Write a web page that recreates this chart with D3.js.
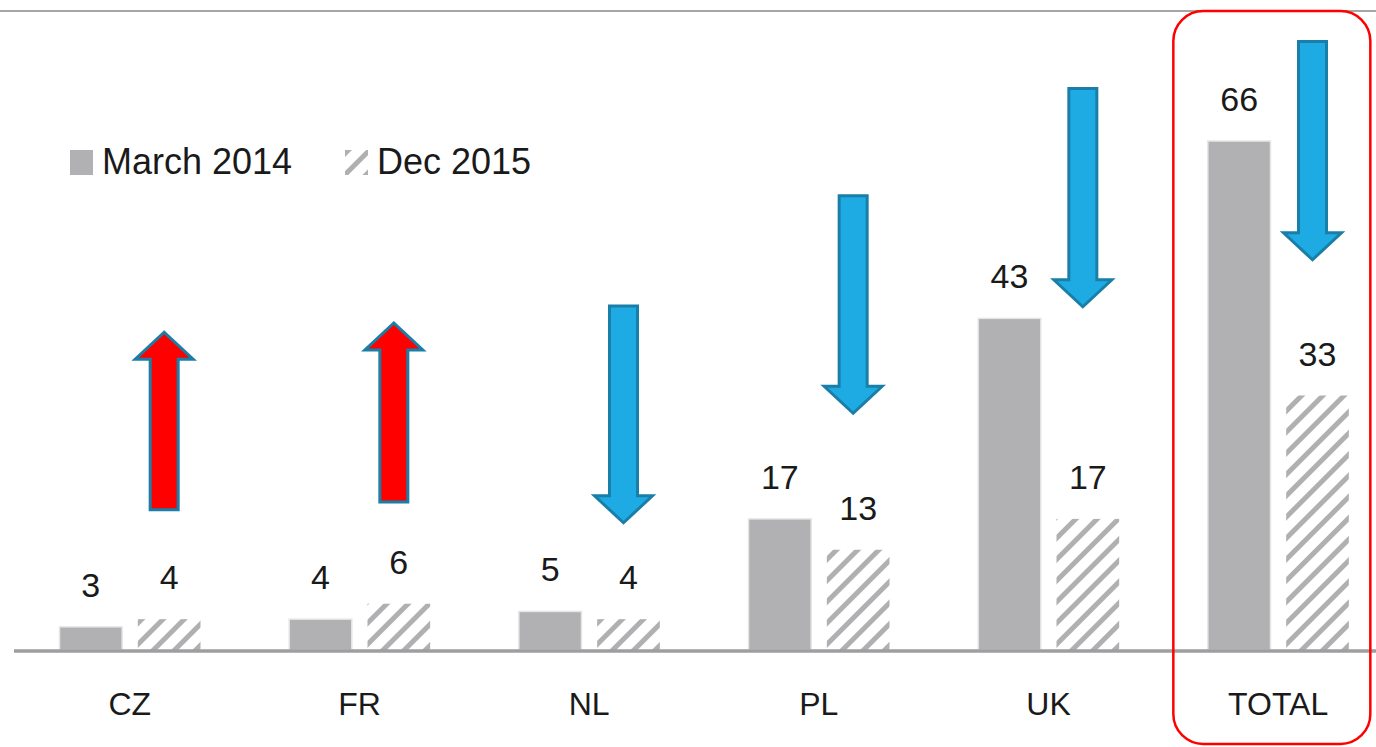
<!DOCTYPE html>
<html>
<head>
<meta charset="utf-8">
<script src="https://cdn.jsdelivr.net/npm/d3@7"></script>
<style>
  html, body { margin: 0; padding: 0; background: #fff; }
  svg { display: block; font-family: 'Liberation Sans', Arial, sans-serif; }
</style>
</head>
<body>
<svg id="chart"></svg>
<script>
// data
const categories = ['CZ', 'FR', 'NL', 'PL', 'UK', 'TOTAL'];
const seriesNames = ['March 2014', 'Dec 2015'];
const march2014 = [3, 4, 5, 17, 43, 66];
const dec2015 = [4, 6, 4, 13, 17, 33];
// arrow annotations, in value units (tail -> tip)
const arrowTail = [18.2, 19.2, 44.6, 58.9, 72.8, 78.9];
const arrowTip = [41.2, 42.4, 16.5, 30.7, 44.5, 50.6];

const width = 1376;
const height = 747;
const svg = d3.select('#chart').attr('width', width).attr('height', height);

const rows = categories.map((c, i) => ({
  cat: c,
  values: [march2014[i], dec2015[i]],
  tail: arrowTail[i],
  tip: arrowTip[i],
}));

// scales
const x0 = d3.scaleBand().domain(categories).range([15, 1393]).padding(0);
const x1 = d3
  .scaleBand()
  .domain(seriesNames)
  .range([44.5, 185.5])
  .paddingInner(0.2);
const y = d3.scaleLinear().domain([0, 66]).range([650, 141]);

// hatch pattern
const defs = svg.append('defs');
defs
  .append('pattern')
  .attr('id', 'hatch')
  .attr('patternUnits', 'userSpaceOnUse')
  .attr('width', 15)
  .attr('height', 15)
  .attr('patternTransform', 'rotate(45)')
  .append('rect')
  .attr('x', 0)
  .attr('y', 0)
  .attr('width', 5)
  .attr('height', 15)
  .attr('fill', '#b0b0b2');

// top rule
svg
  .append('line')
  .attr('x1', 0)
  .attr('x2', width)
  .attr('y1', 11)
  .attr('y2', 11)
  .attr('stroke', '#a6a6a6')
  .attr('stroke-width', 2);

// bars
const groups = svg
  .append('g')
  .selectAll('g')
  .data(rows)
  .join('g')
  .attr('transform', (d) => `translate(${x0(d.cat)},0)`);

groups
  .selectAll('rect')
  .data((d) => d.values.map((v, i) => ({ key: seriesNames[i], value: v })))
  .join('rect')
  .attr('x', (d) => x1(d.key))
  .attr('y', (d) => y(d.value))
  .attr('width', x1.bandwidth())
  .attr('height', (d) => y(0) - y(d.value))
  .attr('fill', (d, i) => (i === 0 ? '#b1b1b3' : 'url(#hatch)'))
  .attr('stroke', (d, i) => (i === 0 ? '#e6e6e6' : 'none'))
  .attr('stroke-width', 1.5);

// value labels
groups
  .selectAll('text.val')
  .data((d) => d.values.map((v, i) => ({ key: seriesNames[i], value: v })))
  .join('text')
  .attr('class', 'val')
  .attr('x', (d) => x1(d.key) + x1.bandwidth() / 2)
  .attr('y', (d) => y(d.value) - 30)
  .attr('text-anchor', 'middle')
  .attr('font-size', 34)
  .attr('fill', '#1a1a1a')
  .text((d) => d.value);

// baseline + category axis
const xAxis = svg
  .append('g')
  .attr('transform', `translate(0,${y(0)})`)
  .call(d3.axisBottom(x0).tickSize(0).tickPadding(54));
xAxis.select('.domain').remove();
xAxis
  .selectAll('text')
  .attr('font-size', 32)
  .attr('font-family', "'Liberation Sans', Arial, sans-serif")
  .attr('fill', '#1a1a1a')
  .attr('dy', '0.35em');
svg
  .append('line')
  .attr('x1', 14)
  .attr('x2', width)
  .attr('y1', y(0) + 1)
  .attr('y2', y(0) + 1)
  .attr('stroke', '#9e9ea0')
  .attr('stroke-width', 3.5);

// arrows
const arrowX = (d) => x0(d.cat) + x1(seriesNames[1]) + x1.bandwidth() / 2 - 5;
const shaftHalf = 14;
const headHalf = 29;
const headLen = 27;
const arrowPath = (d) => {
  const cx = arrowX(d);
  const t = y(d.tail);
  const p = y(d.tip);
  const dir = p < t ? 1 : -1; // 1 = up
  const hb = p + dir * headLen;
  return (
    `M${cx - shaftHalf},${t}L${cx - shaftHalf},${hb}L${cx - headHalf},${hb}` +
    `L${cx},${p}L${cx + headHalf},${hb}L${cx + shaftHalf},${hb}L${cx + shaftHalf},${t}Z`
  );
};
svg
  .append('g')
  .selectAll('path')
  .data(rows)
  .join('path')
  .attr('d', arrowPath)
  .attr('fill', (d) => (d.tip > d.tail ? '#ff0000' : '#1eabe3'))
  .attr('stroke', '#1a7fa8')
  .attr('stroke-width', 3)
  .attr('stroke-linejoin', 'miter');

// highlight around TOTAL
svg
  .append('rect')
  .attr('x', x0('TOTAL') + 10)
  .attr('y', 11)
  .attr('width', 197)
  .attr('height', 733)
  .attr('rx', 30)
  .attr('ry', 30)
  .attr('fill', 'none')
  .attr('stroke', '#ff0000')
  .attr('stroke-width', 2.5);

// legend
const legend = svg
  .append('g')
  .selectAll('g')
  .data(seriesNames)
  .join('g')
  .attr('transform', (d, i) => `translate(${i === 0 ? 70 : 345},150)`);
legend
  .append('rect')
  .attr('width', 23)
  .attr('height', 25)
  .attr('fill', (d, i) => (i === 0 ? '#b1b1b3' : 'url(#hatch)'));
legend
  .append('text')
  .attr('x', 32)
  .attr('y', 24)
  .attr('font-size', 36)
  .attr('fill', '#1a1a1a')
  .text((d) => d);
</script>
</body>
</html>
